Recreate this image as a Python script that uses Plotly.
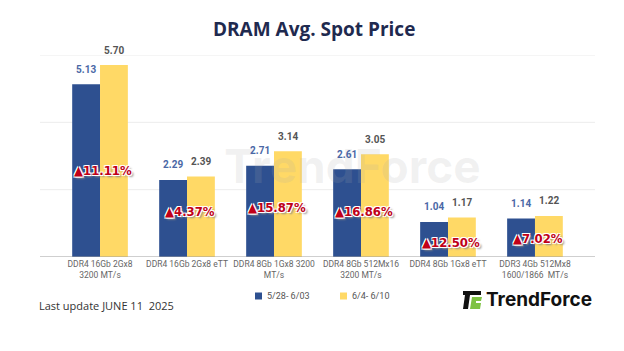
import plotly.graph_objects as go

categories = [
    "DDR4 16Gb 2Gx8<br>3200 MT/s",
    "DDR4 16Gb 2Gx8 eTT",
    "DDR4 8Gb 1Gx8 3200<br>MT/s",
    "DDR4 8Gb 512Mx16<br>3200 MT/s",
    "DDR4 8Gb 1Gx8 eTT",
    "DDR3 4Gb 512Mx8<br>1600/1866  MT/s",
]
prev_week = [5.13, 2.29, 2.71, 2.61, 1.04, 1.14]
this_week = [5.70, 2.39, 3.14, 3.05, 1.17, 1.22]
pct_change = ["11.11%", "4.37%", "15.87%", "16.86%", "12.50%", "7.02%"]
pct_label_y = [2.58, 1.34, 1.48, 1.34, 0.42, 0.56]
series_names = ["5/28- 6/03", "6/4- 6/10"]

BLUE = "#2E5090"
YELLOW = "#FFD966"

W, H = 624, 351
L, R, T, B = 40, 29, 55, 94
PW, PH = W - L - R, H - T - B


def px(x):
    return (x - L) / PW


def py(y):
    return (H - B - y) / PH


fig = go.Figure()
fig.add_trace(go.Bar(x=list(range(len(categories))), y=prev_week, name=series_names[0],
                     marker=dict(color=BLUE, line=dict(width=0)), showlegend=False))
fig.add_trace(go.Bar(x=list(range(len(categories))), y=this_week, name=series_names[1],
                     marker=dict(color=YELLOW, line=dict(width=0)), showlegend=False))

annotations = []
off = 0.16
# watermark (drawn first so it sits beneath other labels)
annotations.append(dict(x=px(352), y=py(166), xref="paper", yref="paper", text="TrendForce",
                        showarrow=False, xanchor="center", yanchor="middle",
                        font=dict(family="Inter", size=46, color="rgba(170,170,170,0.16)", weight="bold")))
for i in range(len(categories)):
    annotations.append(dict(x=i - off, y=prev_week[i], xref="x", yref="y", text=f"{prev_week[i]:.2f}",
                            showarrow=False, yanchor="middle", yshift=15,
                            font=dict(family="Roboto", size=10, color="#4A68A6", weight="bold")))
    annotations.append(dict(x=i + off, y=this_week[i], xref="x", yref="y", text=f"{this_week[i]:.2f}",
                            showarrow=False, yanchor="middle", yshift=15,
                            font=dict(family="Roboto", size=10, color="#555555", weight="bold")))
    annotations.append(dict(x=i + 0.03, y=pct_label_y[i], xref="x", yref="y",
                            text="▲" + pct_change[i],
                            showarrow=False, yanchor="middle",
                            font=dict(family="DejaVu Sans Condensed, Liberation Sans Narrow, sans-serif", size=13,
                                      color="#C00018", weight="bold",
                                      shadow="1px 1px 0 #fff, -1px -1px 0 #fff, 1px -1px 0 #fff, -1px 1px 0 #fff, 2px 2px 2px #888")))

# title
annotations.append(dict(x=px(314), y=py(29), xref="paper", yref="paper", text="DRAM Avg. Spot Price",
                        showarrow=False, xanchor="center", yanchor="middle",
                        font=dict(family="Open Sans", size=19, color="#1F2A4F", weight="bold")))
# last update
annotations.append(dict(x=px(37), y=py(305), xref="paper", yref="paper", text="Last update JUNE 11  2025",
                        showarrow=False, xanchor="left", yanchor="middle",
                        font=dict(family="Open Sans", size=11, color="#333333")))
# logo text
annotations.append(dict(x=px(484), y=py(299), xref="paper", yref="paper", text="TrendForce",
                        showarrow=False, xanchor="left", yanchor="middle",
                        font=dict(family="Inter", size=19, color="#111111", weight="bold")))
# manual legend text
legend_x = [265, 350]
for name, lx in zip(series_names, legend_x):
    annotations.append(dict(x=px(lx), y=py(296), xref="paper", yref="paper", text=name,
                            showarrow=False, xanchor="left", yanchor="middle",
                            font=dict(family="Roboto", size=9, color="#555555")))

shapes = [
    dict(type="line", xref="paper", yref="y", x0=0, x1=1, y0=v, y1=v,
         line=dict(color="#ECECEC", width=1), layer="below") for v in [2, 4, 6]
]
shapes.append(dict(type="line", xref="paper", yref="y", x0=0, x1=1, y0=0, y1=0,
                   line=dict(color="#A0A0A0", width=1.2)))
# legend squares
for color, lx in zip([BLUE, YELLOW], legend_x):
    shapes.append(dict(type="rect", xref="paper", yref="paper", x0=px(lx - 10), x1=px(lx - 3),
                       y0=py(299.5), y1=py(292.5), fillcolor=color, line=dict(width=0)))
# logo icon
shapes += [
    dict(type="rect", xref="paper", yref="paper", x0=px(463), x1=px(481), y0=py(295), y1=py(291),
         fillcolor="#111111", line=dict(width=0)),
    dict(type="path", xref="paper", yref="paper",
         path=f"M {px(465)} {py(295)} L {px(470)} {py(295)} L {px(468)} {py(309)} L {px(463)} {py(309)} Z",
         fillcolor="#111111", line=dict(width=0)),
    dict(type="path", xref="paper", yref="paper",
         path=f"M {px(472)} {py(297)} L {px(482)} {py(297)} L {px(481)} {py(301)} L {px(476)} {py(301)} L {px(476)} {py(303)} L {px(481)} {py(303)} L {px(480)} {py(309)} L {px(470)} {py(309)} Z",
         fillcolor="#7DC242", line=dict(width=0)),
]

fig.update_layout(
    width=W, height=H,
    margin=dict(l=L, r=R, t=T, b=B),
    paper_bgcolor="white", plot_bgcolor="white",
    barmode="group", bargap=0.36, bargroupgap=0,
    showlegend=False,
    xaxis=dict(tickmode="array", tickvals=list(range(len(categories))), ticktext=categories,
               range=[-0.69, 5.69], showgrid=False, zeroline=False, showline=False, ticks="",
               tickangle=0, automargin=False,
               tickfont=dict(family="Roboto", size=8.5, color="#666666")),
    yaxis=dict(range=[0, 6], showgrid=False, zeroline=False, showticklabels=False, showline=False),
    annotations=annotations,
    shapes=shapes,
)

fig.write_html("out.html")
